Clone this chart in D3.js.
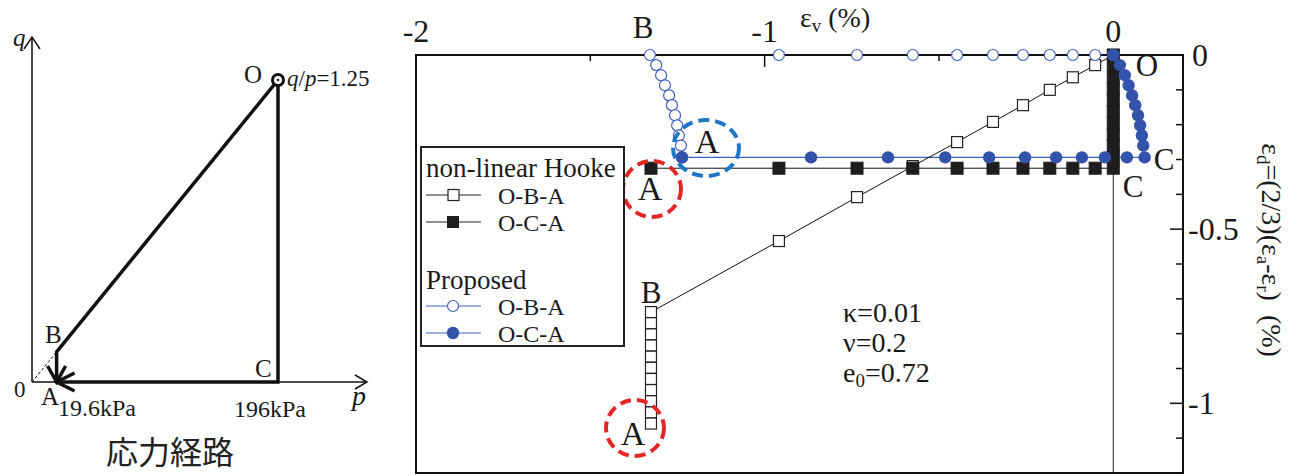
<!DOCTYPE html>
<html>
<head>
<meta charset="utf-8">
<script src="https://cdn.jsdelivr.net/npm/d3@7"></script>
<style>
  body { margin: 0; background: #fff; }
  svg { display: block; }
</style>
</head>
<body>
<svg id="chart" width="1294" height="476"></svg>
<script>
// ---- Stress path (p, q in kPa) ----
const pathOBA_p = [196, 19.6, 19.6];
const pathOBA_q = [245, 24.5, 0];
const pathOCA_p = [196, 196, 19.6];
const pathOCA_q = [245, 0, 0];

// ---- Strain paths: ev (%) vs ed (%) ----
const hookeOBA_x = [0, -0.052, -0.116, -0.182, -0.259, -0.345, -0.448, -0.575, -0.735, -0.959, -1.326,
                    -1.326, -1.326, -1.326, -1.326, -1.326, -1.326, -1.326, -1.326, -1.326, -1.326];
const hookeOBA_y = [0, -0.029, -0.064, -0.100, -0.144, -0.192, -0.250, -0.319, -0.408, -0.534, -0.738,
                    -0.770, -0.802, -0.834, -0.866, -0.898, -0.930, -0.962, -0.994, -1.026, -1.058];

const hookeOCA_x = [0, 0, 0, 0, 0, 0, 0, 0, 0, 0, 0,
                    -0.052, -0.116, -0.182, -0.259, -0.345, -0.448, -0.575, -0.735, -0.959, -1.326];
const hookeOCA_y = [0, -0.0325, -0.065, -0.0975, -0.130, -0.1625, -0.195, -0.2275, -0.260, -0.2925, -0.325,
                    -0.325, -0.325, -0.325, -0.325, -0.325, -0.325, -0.325, -0.325, -0.325, -0.325];

const propOBA_x = [0, -0.052, -0.116, -0.182, -0.259, -0.345, -0.448, -0.575, -0.735, -0.959, -1.329,
                   -1.311, -1.297, -1.286, -1.274, -1.266, -1.257, -1.251, -1.246, -1.240, -1.237];
const propOBA_y = [0, 0, 0, 0, 0, 0, 0, 0, 0, 0, 0,
                   -0.029, -0.058, -0.087, -0.116, -0.144, -0.173, -0.202, -0.231, -0.260, -0.294];

const propOCA_x = [0, 0.019, 0.033, 0.044, 0.054, 0.063, 0.071, 0.077, 0.082, 0.086, 0.090,
                   0.039, -0.024, -0.090, -0.164, -0.253, -0.356, -0.482, -0.646, -0.867, -1.237];
const propOCA_y = [0, -0.029, -0.058, -0.087, -0.116, -0.144, -0.173, -0.202, -0.231, -0.260, -0.294,
                   -0.294, -0.294, -0.294, -0.294, -0.294, -0.294, -0.294, -0.294, -0.294, -0.294];

// ---- Axis ticks ----
const xTicks = [-2, -1.5, -1, -0.5, 0];
const xTickLabels = [-2, -1, 0];
const yTicks = [0, -0.1, -0.2, -0.3, -0.4, -0.5, -0.6, -0.7, -0.8, -0.9, -1.0, -1.1, -1.2];
const yTickLabels = [0, -0.5, -1];

const SERIF = "'Liberation Serif', 'DejaVu Serif', 'Times New Roman', serif";
const BLUE = "#3352aa";
const BLUE_OPEN = "#3d5fc2";
const RED = "#e32626";
const BLUE_DASH = "#1e76c6";

const svg = d3.select("#chart").attr("font-family", SERIF).style("font-family", SERIF);
svg.append("rect").attr("width", 1294).attr("height", 476).attr("fill", "#fff");

const zip = (xs, ys) => xs.map((v, i) => [v, ys[i]]);
const T = (g, tx, ty, fs) => g.append("text").attr("x", tx).attr("y", ty).attr("font-size", fs)
  .attr("font-family", SERIF).attr("fill", "#1a1a1a");

// =================== Left: stress path diagram ===================
const pS = d3.scaleLinear().domain([0, 196]).range([32, 278]);
const qS = d3.scaleLinear().domain([0, 245]).range([382, 80]);
const L = svg.append("g");

// axes with open arrow heads
L.append("line").attr("x1", pS(0)).attr("y1", qS(0)).attr("x2", pS(0)).attr("y2", 37)
  .attr("stroke", "#111").attr("stroke-width", 1.5);
L.append("path").attr("d", `M${pS(0) - 8},49 L${pS(0)},37 L${pS(0) + 8},49`)
  .attr("fill", "none").attr("stroke", "#111").attr("stroke-width", 1.5);
L.append("line").attr("x1", pS(0)).attr("y1", qS(0)).attr("x2", 367).attr("y2", qS(0))
  .attr("stroke", "#111").attr("stroke-width", 1.5);
L.append("path").attr("d", `M355,${qS(0) - 7} L367,${qS(0)} L355,${qS(0) + 7}`)
  .attr("fill", "none").attr("stroke", "#111").attr("stroke-width", 1.5);

// dashed q/p line from origin to B
L.append("line").attr("x1", pS(0)).attr("y1", qS(0))
  .attr("x2", pS(pathOBA_p[1])).attr("y2", qS(pathOBA_q[1]))
  .attr("stroke", "#111").attr("stroke-width", 1).attr("stroke-dasharray", "3,2");

const pathLine = d3.line().x(d => pS(d[0])).y(d => qS(d[1]));
L.append("path").attr("d", pathLine(zip(pathOBA_p, pathOBA_q)))
  .attr("fill", "none").attr("stroke", "#111").attr("stroke-width", 3.5).attr("stroke-linejoin", "miter");
L.append("path").attr("d", pathLine(zip(pathOCA_p, pathOCA_q)))
  .attr("fill", "none").attr("stroke", "#111").attr("stroke-width", 3.5);

// arrow heads at A
const ax = pS(19.6), ay = qS(0);
L.append("path").attr("d", `M${ax - 9},${ay - 16} L${ax},${ay} L${ax + 9},${ay - 16}`)
  .attr("fill", "none").attr("stroke", "#111").attr("stroke-width", 3.5);
L.append("path").attr("d", `M${ax + 18},${ay - 9} L${ax},${ay} L${ax + 18},${ay + 9}`)
  .attr("fill", "none").attr("stroke", "#111").attr("stroke-width", 3.5);

// start point O
L.append("circle").attr("cx", pS(196)).attr("cy", qS(245)).attr("r", 5.5)
  .attr("fill", "#fff").attr("stroke", "#111").attr("stroke-width", 3);
L.append("circle").attr("cx", pS(196)).attr("cy", qS(245)).attr("r", 1.2).attr("fill", "#111");

T(L, 13, 46, 25).attr("font-style", "italic").text("q");
T(L, 244, 83, 25).text("O");
const qp = T(L, 287, 86, 23);
qp.append("tspan").attr("font-style", "italic").text("q");
qp.append("tspan").text("/");
qp.append("tspan").attr("font-style", "italic").text("p");
qp.append("tspan").text("=1.25");
T(L, 45, 343, 25).text("B");
T(L, 255, 377, 25).text("C");
T(L, 14, 397, 23).text("0");
T(L, 41, 405, 25).text("A");
T(L, 58, 416, 24).text("19.6kPa");
T(L, 234, 417, 24).text("196kPa");
T(L, 352, 405, 28).attr("font-style", "italic").text("p");
L.append("text").attr("x", 170).attr("y", 464).attr("font-size", 32).attr("text-anchor", "middle")
  .attr("font-family", "'Noto Sans CJK JP', 'Noto Sans', sans-serif").attr("font-weight", 400)
  .attr("fill", "#222").text("応力経路");

// =================== Right: strain paths ===================
const x = d3.scaleLinear().domain([-2, 0.2]).range([416, 1183]);
const y = d3.scaleLinear().domain([0, -1.2]).range([55, 473]);
const R = svg.append("g");
const line = d3.line().x(d => x(d[0])).y(d => y(d[1]));

const hB = zip(hookeOBA_x, hookeOBA_y);
const hC = zip(hookeOCA_x, hookeOCA_y);
const pB = zip(propOBA_x, propOBA_y);
const pC = zip(propOCA_x, propOCA_y);

// zero volumetric strain line
R.append("line").attr("x1", x(0)).attr("x2", x(0)).attr("y1", y(0)).attr("y2", y(-1.2))
  .attr("stroke", "#222").attr("stroke-width", 1);

// connecting lines (below the frame and markers)
R.append("path").attr("d", line(pB)).attr("fill", "none").attr("stroke", BLUE_OPEN).attr("stroke-width", 1);
R.append("path").attr("d", line(pC)).attr("fill", "none").attr("stroke", BLUE_OPEN).attr("stroke-width", 1.2);
R.append("path").attr("d", line(hB)).attr("fill", "none").attr("stroke", "#111").attr("stroke-width", 1);
R.append("path").attr("d", line(hC)).attr("fill", "none").attr("stroke", "#111").attr("stroke-width", 1);

// frame
R.append("rect").attr("x", x(-2)).attr("y", y(0)).attr("width", x(0.2) - x(-2)).attr("height", y(-1.2) - y(0))
  .attr("fill", "none").attr("stroke", "#111").attr("stroke-width", 2);

// top ticks (inward) and labels
xTicks.forEach(t => {
  const major = Number.isInteger(t);
  R.append("line").attr("x1", x(t)).attr("x2", x(t)).attr("y1", y(0)).attr("y2", y(0) + (major ? 12 : 6))
    .attr("stroke", "#111").attr("stroke-width", 1.5);
});
xTickLabels.forEach(t => {
  T(R, x(t), 42, 32).attr("text-anchor", "middle").text(String(t));
});
const xl = T(R, 800, 27, 28);
xl.append("tspan").text("ε");
xl.append("tspan").attr("font-size", 19).attr("dy", 5).text("v");
xl.append("tspan").attr("dy", -5).text(" (%)");

// right ticks (inward) and labels
yTicks.forEach((t, i) => {
  const major = i % 5 === 0;
  R.append("line").attr("x1", x(0.2) - (major ? 13 : 7)).attr("x2", x(0.2)).attr("y1", y(t)).attr("y2", y(t))
    .attr("stroke", "#111").attr("stroke-width", 1.5);
});
yTickLabels.forEach(t => {
  T(R, t === 0 ? 1192 : 1188, y(t) + 11, 32).text(String(t));
});
const yl = R.append("text").attr("transform", "translate(1262,250) rotate(90)")
  .attr("text-anchor", "middle").attr("font-size", 28).attr("font-family", SERIF).attr("fill", "#1a1a1a");
yl.append("tspan").text("ε");
yl.append("tspan").attr("font-size", 19).attr("dy", 5).text("d");
yl.append("tspan").attr("dy", -5).text("=(2/3)(ε");
yl.append("tspan").attr("font-size", 19).attr("dy", 5).text("a");
yl.append("tspan").attr("dy", -5).text("-ε");
yl.append("tspan").attr("font-size", 19).attr("dy", 5).text("r");
yl.append("tspan").attr("dy", -5).text(")\u00a0\u00a0(%)");

// non-linear Hooke: O-B-A (open squares)
R.selectAll(".hB").data(hB).enter().append("rect")
  .attr("x", d => x(d[0]) - 5.5).attr("y", d => y(d[1]) - 5.5).attr("width", 11).attr("height", 11)
  .attr("fill", "#fff").attr("stroke", "#222").attr("stroke-width", 1.2);

// non-linear Hooke: O-C-A (filled squares)
R.selectAll(".hC").data(hC).enter().append("rect")
  .attr("x", d => x(d[0]) - 6).attr("y", d => y(d[1]) - 6).attr("width", 12).attr("height", 12)
  .attr("fill", "#1e1e1e").attr("stroke", "#1e1e1e").attr("stroke-width", 1);

// proposed: O-B-A (open circles)
R.selectAll(".pB").data(pB).enter().append("circle")
  .attr("cx", d => x(d[0])).attr("cy", d => y(d[1])).attr("r", 5.5)
  .attr("fill", "#fff").attr("stroke", BLUE_OPEN).attr("stroke-width", 1.2);

// proposed: O-C-A (filled circles)
R.selectAll(".pC").data(pC).enter().append("circle")
  .attr("cx", d => x(d[0])).attr("cy", d => y(d[1])).attr("r", 6.2)
  .attr("fill", BLUE);

// point labels
const lab = (tx, ty, s, fs) => T(R, tx, ty, fs).attr("text-anchor", "middle").text(s);
lab(643, 38, "B", 31);
lab(1147, 76, "O", 31);
lab(1164, 170, "C", 31);
lab(1133, 197, "C", 31);
lab(651, 303, "B", 31);
lab(707, 153, "A", 34);
lab(650, 200, "A", 34);
lab(633, 445, "A", 34);

// highlight rings around end points
R.append("ellipse").attr("cx", 706).attr("cy", 148).attr("rx", 33).attr("ry", 28)
  .attr("fill", "none").attr("stroke", BLUE_DASH).attr("stroke-width", 4).attr("stroke-dasharray", "11,6");
R.append("ellipse").attr("cx", 652).attr("cy", 189).attr("rx", 29).attr("ry", 28)
  .attr("fill", "none").attr("stroke", RED).attr("stroke-width", 4).attr("stroke-dasharray", "11,6");
R.append("ellipse").attr("cx", 635).attr("cy", 428).attr("rx", 29).attr("ry", 28)
  .attr("fill", "none").attr("stroke", RED).attr("stroke-width", 4).attr("stroke-dasharray", "11,6");

// material parameters
T(R, 843, 322, 28).text("κ=0.01");
T(R, 843, 352, 28).text("ν=0.2");
const e0 = T(R, 843, 382, 28);
e0.append("tspan").text("e");
e0.append("tspan").attr("font-size", 19).attr("dy", 5).text("0");
e0.append("tspan").attr("dy", -5).text("=0.72");

// legend
const G = svg.append("g");
G.append("rect").attr("x", 421).attr("y", 147).attr("width", 203).attr("height", 199)
  .attr("fill", "#fff").attr("stroke", "#222").attr("stroke-width", 2);
T(G, 426, 177, 27).text("non-linear Hooke");
T(G, 426, 289, 27).text("Proposed");
const legItems = [
  { y: 195, stroke: "#222", marker: "sq-open", label: "O-B-A" },
  { y: 222, stroke: "#222", marker: "sq-fill", label: "O-C-A" },
  { y: 306, stroke: BLUE_OPEN, marker: "ci-open", label: "O-B-A" },
  { y: 333, stroke: BLUE_OPEN, marker: "ci-fill", label: "O-C-A" }
];
legItems.forEach(it => {
  G.append("line").attr("x1", 426).attr("x2", 481).attr("y1", it.y).attr("y2", it.y)
    .attr("stroke", it.stroke).attr("stroke-width", 1);
  if (it.marker === "sq-open") {
    G.append("rect").attr("x", 448).attr("y", it.y - 5.5).attr("width", 11).attr("height", 11)
      .attr("fill", "#fff").attr("stroke", "#222").attr("stroke-width", 1.2);
  } else if (it.marker === "sq-fill") {
    G.append("rect").attr("x", 447).attr("y", it.y - 6).attr("width", 12).attr("height", 12).attr("fill", "#1e1e1e");
  } else if (it.marker === "ci-open") {
    G.append("circle").attr("cx", 453).attr("cy", it.y).attr("r", 5.5)
      .attr("fill", "#fff").attr("stroke", BLUE_OPEN).attr("stroke-width", 1.2);
  } else {
    G.append("circle").attr("cx", 453).attr("cy", it.y).attr("r", 6.2).attr("fill", BLUE);
  }
  T(G, 498, it.y + 9, 24).text(it.label);
});
</script>
</body>
</html>
